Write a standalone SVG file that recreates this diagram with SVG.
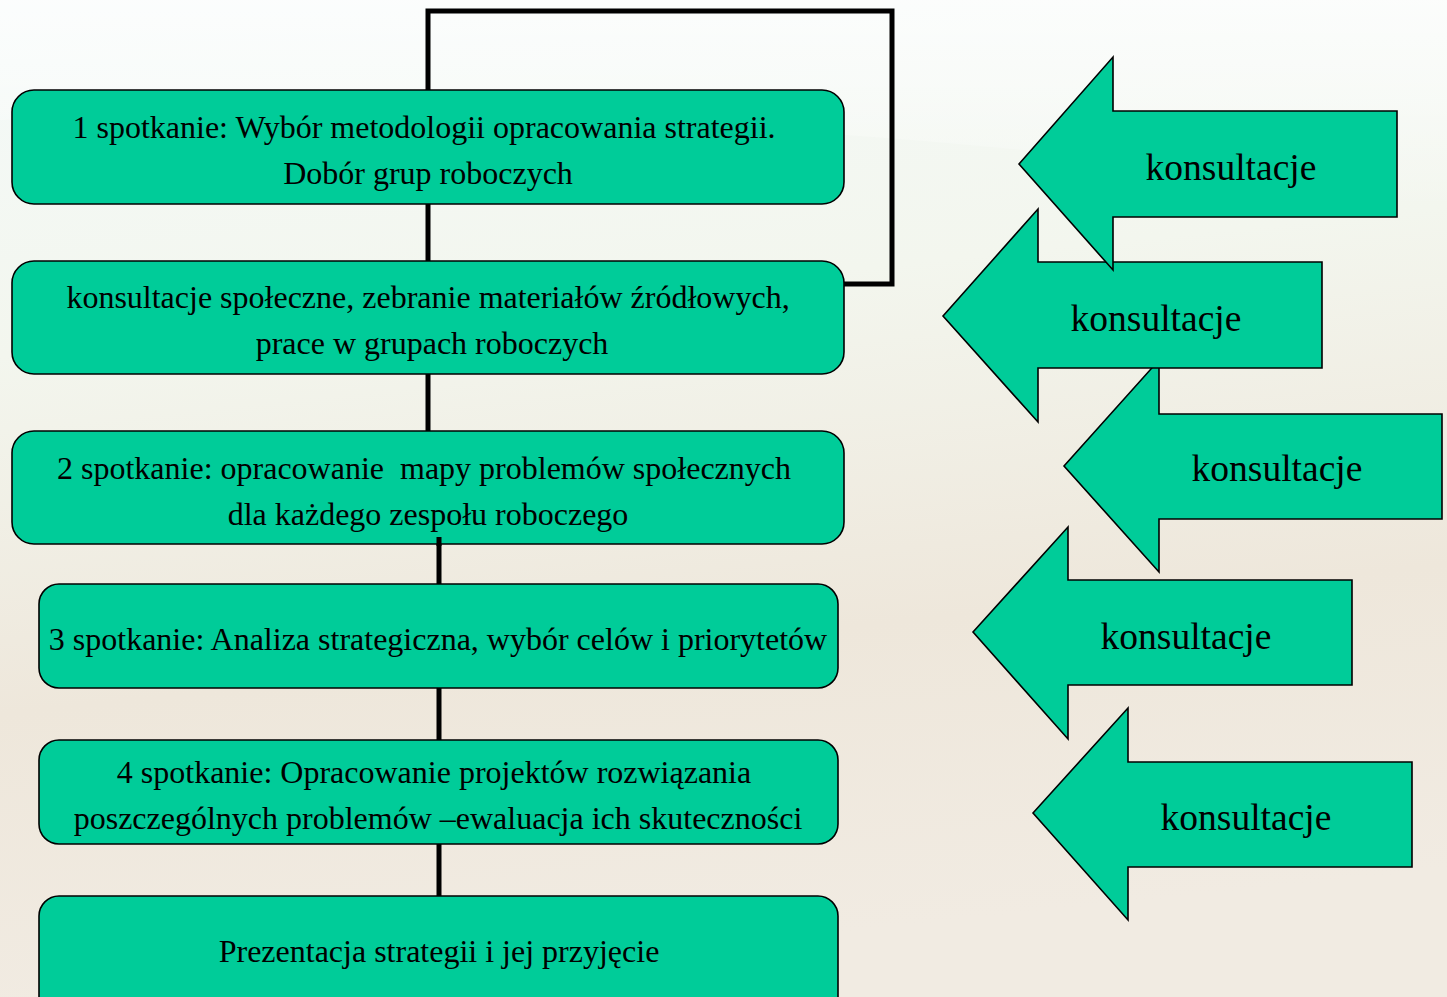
<svg xmlns="http://www.w3.org/2000/svg" width="1447" height="997" viewBox="0 0 1447 997">
<style>
.box{fill:#00CC99;stroke:#000;stroke-width:1.6}
.arr{fill:#00CC99;stroke:#000;stroke-width:1.6;stroke-linejoin:miter}
.t{font-family:"Liberation Serif","Times New Roman",serif;font-size:32px;fill:#000;text-anchor:middle;white-space:pre}
.k{font-family:"Liberation Serif","Times New Roman",serif;font-size:37.5px;fill:#000;text-anchor:middle}
.c{fill:none;stroke:#000;stroke-width:5}
</style>
<defs>
<linearGradient id="bg" x1="0" y1="0" x2="0.15" y2="1">
<stop offset="0" stop-color="#f4faf9"/>
<stop offset="0.35" stop-color="#f3f6ee"/>
<stop offset="0.7" stop-color="#eee7db"/>
<stop offset="1" stop-color="#f1ebe2"/>
</linearGradient>
<linearGradient id="sw" x1="0" y1="0" x2="0" y2="1">
<stop offset="0" stop-color="#ffffff" stop-opacity="0.7"/>
<stop offset="1" stop-color="#ffffff" stop-opacity="0"/>
</linearGradient>
</defs>
<rect width="1447" height="997" fill="url(#bg)"/>
<path d="M0,0 H1447 V210 C1200,160 700,100 0,120 Z" fill="url(#sw)"/>
<g id="connectors">
<polyline class="c" points="428,90 428,11 892,11 892,284 844,284"/>
<line class="c" x1="428" y1="204" x2="428" y2="261"/>
<line class="c" x1="428" y1="374" x2="428" y2="431"/>
<line class="c" x1="439" y1="537" x2="439" y2="584"/>
<line class="c" x1="439" y1="688" x2="439" y2="740"/>
<line class="c" x1="439" y1="844" x2="439" y2="896"/>
</g>
<g id="box1">
<rect class="box" x="12" y="90" width="832" height="114" rx="22"/>
<text class="t" x="424" y="138">1 spotkanie: Wybór metodologii opracowania strategii.</text>
<text class="t" x="428" y="184">Dobór grup roboczych</text>
</g>
<g id="box2">
<rect class="box" x="12" y="261" width="832" height="113" rx="22"/>
<text class="t" x="428" y="308">konsultacje społeczne, zebranie materiałów źródłowych,</text>
<text class="t" x="432" y="354">prace w grupach roboczych</text>
</g>
<g id="box3">
<rect class="box" x="12" y="431" width="832" height="113" rx="22"/>
<text class="t" x="424" y="479" xml:space="preserve">2 spotkanie: opracowanie  mapy problemów społecznych</text>
<text class="t" x="428" y="525">dla każdego zespołu roboczego</text>
</g>
<line class="c" x1="439" y1="537" x2="439" y2="546"/>
<g id="box4">
<rect class="box" x="39" y="584" width="799" height="104" rx="20"/>
<text class="t" x="438" y="650">3 spotkanie: Analiza strategiczna, wybór celów i priorytetów</text>
</g>
<g id="box5">
<rect class="box" x="39" y="740" width="799" height="104" rx="20"/>
<text class="t" x="434" y="783">4 spotkanie: Opracowanie projektów rozwiązania</text>
<text class="t" x="438" y="829">poszczególnych problemów –ewaluacja ich skuteczności</text>
</g>
<g id="box6">
<rect class="box" x="39" y="896" width="799" height="130" rx="20"/>
<text class="t" x="439" y="962">Prezentacja strategii i jej przyjęcie</text>
</g>
<g id="arrow3">
<polygon class="arr" points="1064,466 1159,360 1159,414 1442,414 1442,519 1159,519 1159,572"/>
<text class="k" x="1277" y="481">konsultacje</text>
</g>
<g id="arrow2">
<polygon class="arr" points="943,316 1038,209 1038,262 1322,262 1322,368 1038,368 1038,422"/>
<text class="k" x="1156" y="331">konsultacje</text>
</g>
<g id="arrow1">
<polygon class="arr" points="1019,164 1113,57 1113,111 1397,111 1397,217 1113,217 1113,270"/>
<text class="k" x="1231" y="180">konsultacje</text>
</g>
<g id="arrow4">
<polygon class="arr" points="973,632 1068,527 1068,580 1352,580 1352,685 1068,685 1068,739"/>
<text class="k" x="1186" y="649">konsultacje</text>
</g>
<g id="arrow5">
<polygon class="arr" points="1033,813 1128,708 1128,762 1412,762 1412,867 1128,867 1128,920"/>
<text class="k" x="1246" y="830">konsultacje</text>
</g>
</svg>
